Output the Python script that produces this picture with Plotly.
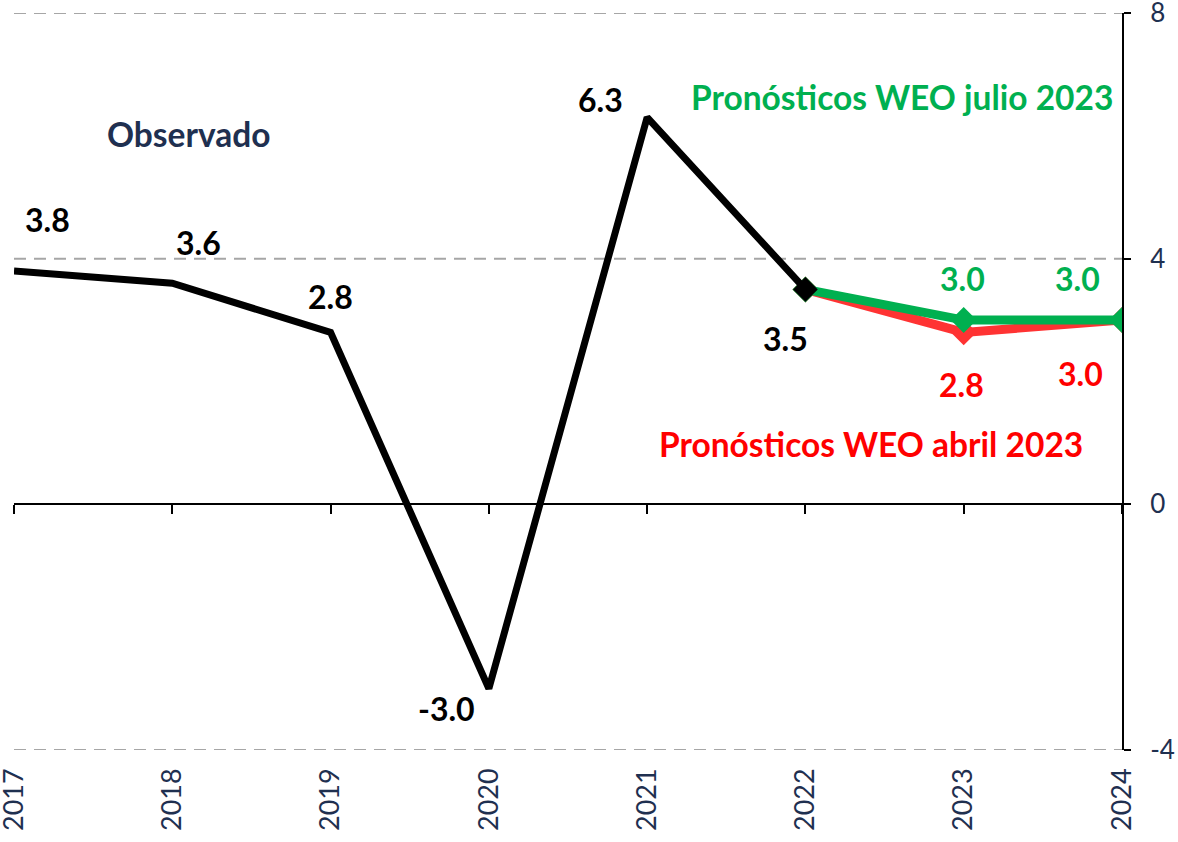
import plotly.graph_objects as go

years = [2017, 2018, 2019, 2020, 2021, 2022, 2023, 2024]
obs_years = [2017, 2018, 2019, 2020, 2021, 2022]
obs_vals = [3.8, 3.6, 2.8, -3.0, 6.3, 3.5]
jul_years = [2022, 2023, 2024]
jul_vals = [3.5, 3.0, 3.0]
abr_years = [2022, 2023, 2024]
abr_vals = [3.5, 2.8, 3.0]
ytick_vals = [-4, 0, 4, 8]
ytick_text = ["-4", "0", "4", "8"]

FONT = "Lato"
NAVY = "#1F3050"
GREEN = "#00B050"
RED = "#FF3333"
RED_TXT = "#FF0000"

fig = go.Figure()
fig.add_trace(go.Scatter(x=abr_years, y=abr_vals, mode="lines+markers",
                         line=dict(color=RED, width=9),
                         marker=dict(symbol="diamond", size=20, color=RED),
                         showlegend=False, hoverinfo="skip"))
fig.add_trace(go.Scatter(x=jul_years, y=jul_vals, mode="lines+markers",
                         line=dict(color=GREEN, width=9),
                         marker=dict(symbol="diamond", size=20, color=GREEN),
                         showlegend=False, hoverinfo="skip"))
fig.add_trace(go.Scatter(x=obs_years, y=obs_vals, mode="lines",
                         line=dict(color="black", width=7),
                         showlegend=False, hoverinfo="skip"))
fig.add_trace(go.Scatter(x=[obs_years[-1]], y=[obs_vals[-1]], mode="markers",
                         marker=dict(symbol="diamond", size=19, color="black"),
                         showlegend=False, hoverinfo="skip"))
# invisible trace for the zero-line axis
fig.add_trace(go.Scatter(x=years, y=[0] * len(years), mode="lines",
                         line=dict(width=0), opacity=0, xaxis="x2",
                         showlegend=False, hoverinfo="skip"))

# dashed gridlines at the non-zero y ticks
for v in ytick_vals:
    if v != 0:
        fig.add_shape(type="line", xref="paper", x0=0, x1=1, yref="y", y0=v, y1=v,
                      line=dict(color="#A6A6A6", width=2, dash="12px,8px"),
                      layer="below")

LS = 32
obs_shift = [(33, 51), (26, 41), (0, 36), (-42, -20), (-47, 18), (-20, -49)]
for x, y, (dx, dy) in zip(obs_years, obs_vals, obs_shift):
    fig.add_annotation(x=x, y=y, text=f"<b>{y:.1f}</b>", showarrow=False,
                       xshift=dx, yshift=dy,
                       font=dict(family=FONT, size=LS, color="black"))
jul_shift = [(-1, 42), (-45, 42)]
for x, y, (dx, dy) in zip(jul_years[1:], jul_vals[1:], jul_shift):
    fig.add_annotation(x=x, y=y, text=f"<b>{y:.1f}</b>", showarrow=False,
                       xshift=dx, yshift=dy,
                       font=dict(family=FONT, size=LS, color=GREEN))
abr_shift = [(-2, -52), (-42, -53)]
for x, y, (dx, dy) in zip(abr_years[1:], abr_vals[1:], abr_shift):
    fig.add_annotation(x=x, y=y, text=f"<b>{y:.1f}</b>", showarrow=False,
                       xshift=dx, yshift=dy,
                       font=dict(family=FONT, size=LS, color=RED_TXT))

TS = 33.5
fig.add_annotation(x=2017.575, y=6.03, text="<b>Observado</b>", showarrow=False,
                   xanchor="left", font=dict(family=FONT, size=TS, color=NAVY))
fig.add_annotation(x=2023.955, y=6.63, text="<b>Pronósticos WEO julio 2023</b>",
                   showarrow=False, xanchor="right",
                   font=dict(family=FONT, size=TS, color=GREEN))
fig.add_annotation(x=2023.766, y=0.99, text="<b>Pronósticos WEO abril 2023</b>",
                   showarrow=False, xanchor="right",
                   font=dict(family=FONT, size=TS, color=RED_TXT))

fig.update_layout(
    width=1178, height=842,
    margin=dict(l=14, r=56, t=13, b=92, autoexpand=False),
    paper_bgcolor="white", plot_bgcolor="white",
    font=dict(family=FONT, color=NAVY),
    xaxis=dict(range=[2017, 2024], tickvals=years,
               ticktext=[str(y) for y in years],
               tickangle=-90, showgrid=False, zeroline=False, showline=False,
               ticks="", ticklabeloverflow="allow", ticklabelstandoff=12,
               tickfont=dict(family=FONT, size=27, color=NAVY)),
    xaxis2=dict(range=[2017, 2024], overlaying="x", anchor="free",
                position=1 / 3,
                tickvals=years, showticklabels=False, showgrid=False, zeroline=False,
                showline=True, linecolor="black", linewidth=2,
                ticks="outside", ticklen=9, tickwidth=2, tickcolor="black"),
    yaxis=dict(range=[-4, 8], tickvals=ytick_vals, ticktext=ytick_text, side="right",
               showgrid=False, zeroline=False, showline=True,
               linecolor="black", linewidth=2,
               ticks="outside", ticklen=7, tickwidth=2, tickcolor="black",
               ticklabeloverflow="allow", ticklabelstandoff=14,
               tickfont=dict(family=FONT, size=26, color=NAVY)),
)

fig.write_html("out.html", config={"displayModeBar": False},
               post_script="document.body.style.margin='0';document.body.style.overflow='hidden';")
